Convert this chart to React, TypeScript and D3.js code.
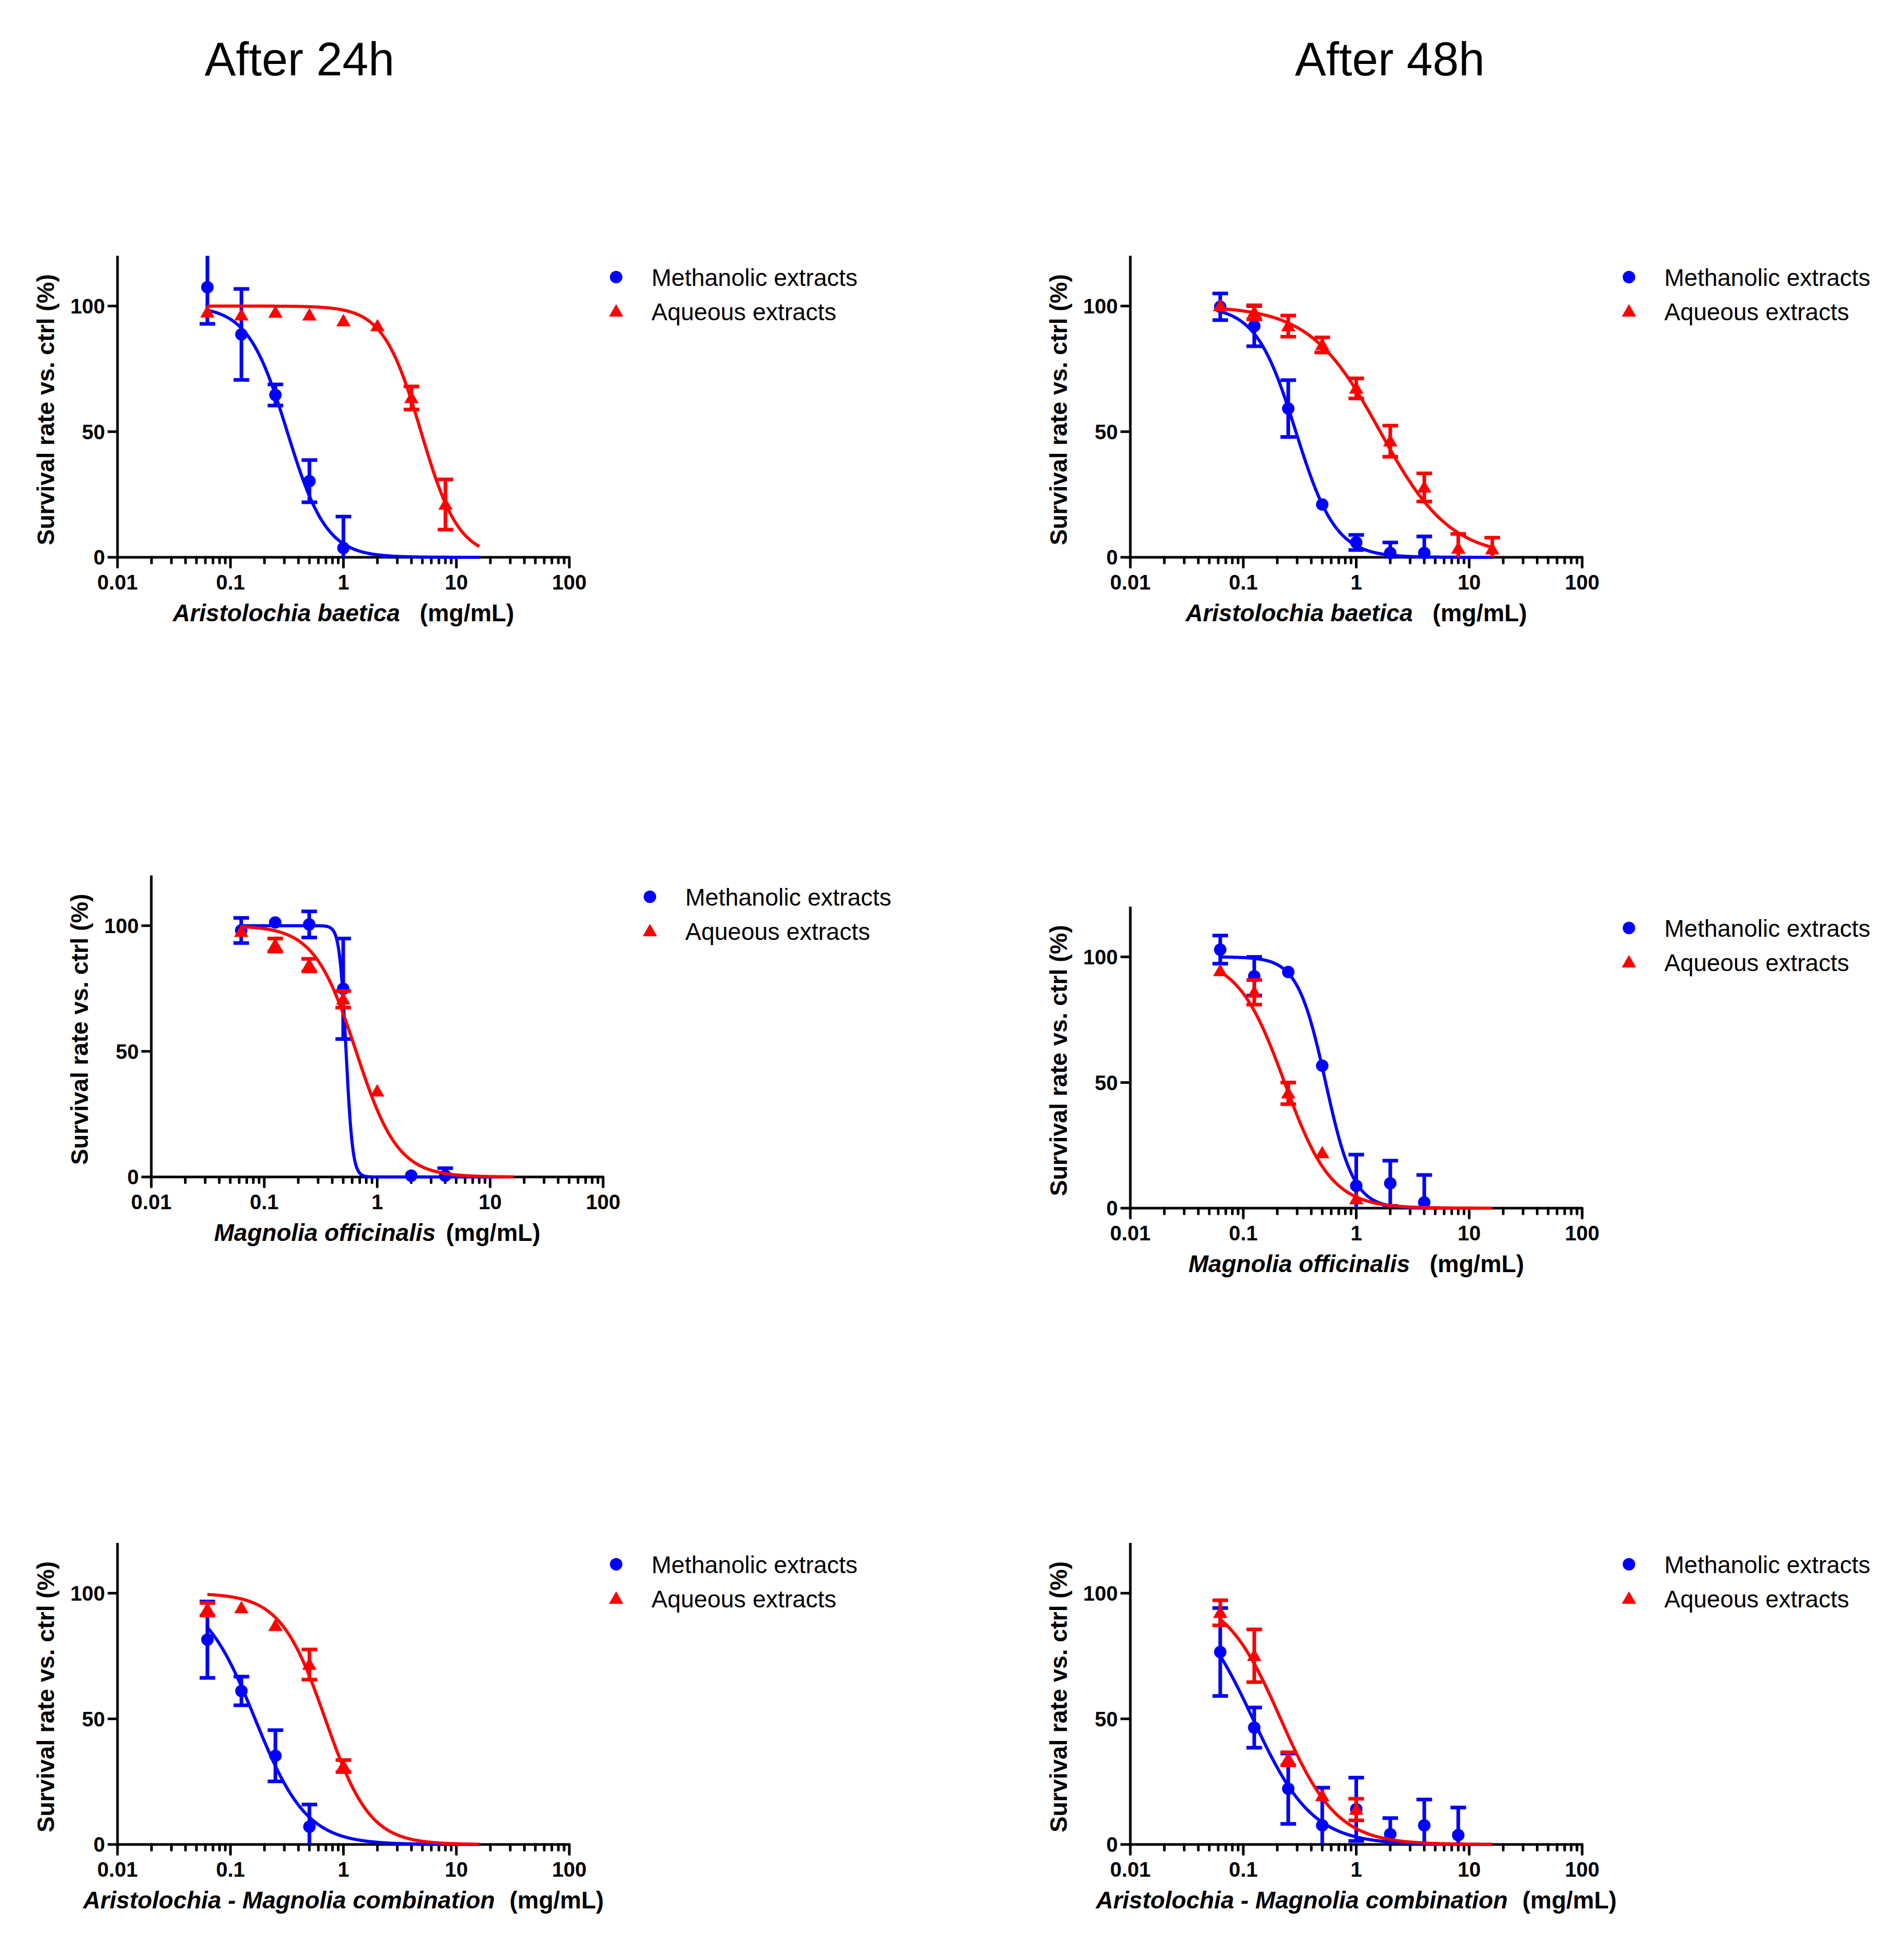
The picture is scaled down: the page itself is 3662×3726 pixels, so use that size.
import * as d3 from 'd3'

const W = 3662
const H = 3726
const FONT = '"Liberation Sans", Arial, Helvetica, sans-serif'
const BLUE = '#0000FF'
const RED = '#FF0000'

// plot frame size (4 decades wide, 0..120 % tall)
const PW = 869
const PH = 580

// sem 0 = bar shorter than the symbol, not drawn
// ---- After 24h, Aristolochia baetica ----
const doseMetA24 = [0.0625, 0.125, 0.25, 0.5, 1]
const metA24 = [107.5, 88.7, 64.6, 30.3, 3.7]
const metA24Sem = [14.6, 18.1, 4.2, 8.4, 12.5]
const doseAqA24 = [0.0625, 0.125, 0.25, 0.5, 1, 2, 4, 8]
const aqA24 = [97.5, 96.3, 97.4, 96.3, 94, 92, 63.4, 21]
const aqA24Sem = [0, 0, 0, 0, 0, 0, 4.6, 10]
const ic50A24 = [0.318, 4.86]
const hillA24 = [2.5, 2.6]

// ---- After 48h, Aristolochia baetica ----
const doseMetA48 = [0.0625, 0.125, 0.25, 0.5, 1, 2, 4]
const metA48 = [99.7, 92, 59.2, 21, 5.9, 1.7, 1.7]
const metA48Sem = [5.3, 8, 11.3, 0, 3, 4.2, 6.6]
const doseAqA48 = [0.0625, 0.125, 0.25, 0.5, 1, 2, 4, 8, 16]
const aqA48 = [100, 97.5, 92, 84.5, 67.2, 46.2, 27.8, 3.5, 3.2]
const aqA48Sem = [0, 2.8, 4.2, 3, 4, 6.2, 5.6, 5.8, 4.6]
const ic50A48 = [0.292, 1.63]
const hillA48 = [2.46, 1.4]

// ---- After 24h, Magnolia officinalis ----
const doseMetM24 = [0.0625, 0.125, 0.25, 0.5, 2, 4]
const metM24 = [98.1, 101.3, 100.5, 74.9, 0.5, 0.5]
const metM24Sem = [5, 0, 5.2, 20, 0, 3]
const doseAqM24 = [0.0625, 0.125, 0.25, 0.5, 1]
const aqM24 = [97.6, 92.3, 84.3, 70.7, 34.1]
const aqM24Sem = [0, 2.6, 2.5, 3.3, 0]
const ic50M24 = [0.53, 0.65]
const hillM24 = [15, 2.35]

// ---- After 48h, Magnolia officinalis ----
const doseMetM48 = [0.0625, 0.125, 0.25, 0.5, 1, 2, 4]
const metM48 = [102.9, 92.3, 94, 56.7, 8.9, 9.9, 2.3]
const metM48Sem = [5.6, 7.7, 0, 0, 12.4, 9, 10.9]
const doseAqM48 = [0.0625, 0.125, 0.25, 0.5, 1]
const aqM48 = [94.4, 85.9, 45.7, 21.9, 3.6]
const aqM48Sem = [0, 4.9, 4.3, 0, 0]
const ic50M48 = [0.536, 0.232]
const hillM48 = [3.5, 2.1]

// ---- After 24h, combination ----
const doseMetC24 = [0.0625, 0.125, 0.25, 0.5]
const metC24 = [81.5, 61.1, 35.3, 7.1]
const metC24Sem = [15.2, 5.7, 10.2, 8.8]
const doseAqC24 = [0.0625, 0.125, 0.25, 0.5, 1]
const aqC24 = [93.6, 94.1, 87, 71.6, 31.2]
const aqC24Sem = [2.5, 0, 0, 6, 2.4]
const ic50C24 = [0.165, 0.69]
const hillC24 = [1.9, 2.2]

// ---- After 48h, combination ----
const doseMetC48 = [0.0625, 0.125, 0.25, 0.5, 1, 2, 4, 8]
const metC48 = [76.6, 46.5, 22.2, 7.6, 14, 4.1, 7.6, 3.7]
const metC48Sem = [17.5, 8, 14, 15, 12.6, 6.4, 10.3, 11]
const doseAqC48 = [0.0625, 0.125, 0.25, 0.5, 1]
const aqC48 = [92.2, 75.1, 34.1, 19.3, 13.9]
const aqC48Sem = [5, 10.5, 2.6, 0, 4.3]
const ic50C48 = [0.1216, 0.214]
const hillC48 = [1.65, 1.75]

const legendLabels = ['Methanolic extracts', 'Aqueous extracts']
const titles = ['After 24h', 'After 48h']

type Series = { dose: number[]; mean: number[]; sem: number[]; ic50: number; hill: number }
type PanelDef = {
  x0: number
  y0: number
  species: string
  gap: number
  series: Series[]
}

function mk(dose: number[], mean: number[], sem: number[], ic50: number[], hill: number[], i: number): Series {
  return { dose, mean, sem, ic50: ic50[i], hill: hill[i] }
}

const panels: PanelDef[] = [
  {
    x0: 226, y0: 1072, species: 'Aristolochia baetica', gap: 38,
    series: [mk(doseMetA24, metA24, metA24Sem, ic50A24, hillA24, 0), mk(doseAqA24, aqA24, aqA24Sem, ic50A24, hillA24, 1)],
  },
  {
    x0: 2174, y0: 1072, species: 'Aristolochia baetica', gap: 38,
    series: [mk(doseMetA48, metA48, metA48Sem, ic50A48, hillA48, 0), mk(doseAqA48, aqA48, aqA48Sem, ic50A48, hillA48, 1)],
  },
  {
    x0: 291, y0: 2264, species: 'Magnolia officinalis', gap: 20,
    series: [mk(doseMetM24, metM24, metM24Sem, ic50M24, hillM24, 0), mk(doseAqM24, aqM24, aqM24Sem, ic50M24, hillM24, 1)],
  },
  {
    x0: 2174, y0: 2324, species: 'Magnolia officinalis', gap: 38,
    series: [mk(doseMetM48, metM48, metM48Sem, ic50M48, hillM48, 0), mk(doseAqM48, aqM48, aqM48Sem, ic50M48, hillM48, 1)],
  },
  {
    x0: 226, y0: 3548, species: 'Aristolochia - Magnolia combination', gap: 28,
    series: [mk(doseMetC24, metC24, metC24Sem, ic50C24, hillC24, 0), mk(doseAqC24, aqC24, aqC24Sem, ic50C24, hillC24, 1)],
  },
  {
    x0: 2174, y0: 3548, species: 'Aristolochia - Magnolia combination', gap: 28,
    series: [mk(doseMetC48, metC48, metC48Sem, ic50C48, hillC48, 0), mk(doseAqC48, aqC48, aqC48Sem, ic50C48, hillC48, 1)],
  },
]

const COLORS = [BLUE, RED]
const triPath = d3.symbol().type(d3.symbolTriangle).size(330)() ?? ''

function Marker({ kind, cx, cy }: { kind: number; cx: number; cy: number }) {
  if (kind === 0) return <circle cx={cx} cy={cy} r={12} fill={BLUE} />
  return <path d={triPath} transform={`translate(${cx},${cy + 2})`} fill={RED} />
}

function Panel({ p }: { p: PanelDef }) {
  const x = d3.scaleLog().domain([0.01, 100]).range([p.x0, p.x0 + PW])
  const y = d3.scaleLinear().domain([0, 120]).range([p.y0, p.y0 - PH])
  const ticks = x.ticks()
  const isMajor = (t: number) => Math.abs(Math.log10(t) - Math.round(Math.log10(t))) < 1e-9
  const yTicks = [0, 50, 100]

  // fitted dose–response curve sampled on a log grid between first and last dose
  const grid = d3.range(0, 401).map((i) => 0.0625 * Math.pow(256, i / 400))
  const top = y(120)
  const legendX = p.x0 + 959
  const legendY = top + 41

  return (
    <g>
      {/* axes */}
      <line x1={p.x0} x2={p.x0 + PW} y1={p.y0} y2={p.y0} stroke="#000" strokeWidth={5} />
      <line x1={p.x0} x2={p.x0} y1={top} y2={p.y0} stroke="#000" strokeWidth={5} />
      {ticks.map((t, i) => (
        <line
          key={i}
          x1={x(t)}
          x2={x(t)}
          y1={p.y0}
          y2={p.y0 + (isMajor(t) ? 19 : 11)}
          stroke="#000"
          strokeWidth={5}
          strokeLinecap="round"
        />
      ))}
      {ticks.filter(isMajor).map((t, i) => (
        <text
          key={i}
          x={x(t)}
          y={p.y0 + 62}
          textAnchor="middle"
          fontFamily={FONT}
          fontWeight="bold"
          fontSize={40}
        >
          {String(t)}
        </text>
      ))}
      {yTicks.map((t) => (
        <g key={t}>
          <line x1={p.x0 - 19} x2={p.x0} y1={y(t)} y2={y(t)} stroke="#000" strokeWidth={5} />
          <text
            x={p.x0 - 24}
            y={y(t)}
            dy="0.36em"
            textAnchor="end"
            fontFamily={FONT}
            fontWeight="bold"
            fontSize={40}
          >
            {t}
          </text>
        </g>
      ))}

      {/* axis titles */}
      <text
        transform={`translate(${p.x0 - 122},${(p.y0 + top) / 2 + 6}) rotate(-90)`}
        textAnchor="middle"
        fontFamily={FONT}
        fontWeight="bold"
        fontSize={46}
      >
        Survival rate vs. ctrl (%)
      </text>
      <text
        x={p.x0 + PW / 2}
        y={p.y0 + 123}
        textAnchor="middle"
        fontFamily={FONT}
        fontWeight="bold"
        fontSize={46}
      >
        <tspan fontStyle="italic">{p.species}</tspan>
        <tspan dx={p.gap}>(mg/mL)</tspan>
      </text>

      {/* data */}
      {p.series.map((s, k) => {
        const color = COLORS[k]
        const line = d3
          .line<number>()
          .x((c) => x(c))
          .y((c) => y(100 / (1 + Math.pow(10, s.hill * (Math.log10(c) - Math.log10(s.ic50))))))
        return (
          <g key={k}>
            <path d={line(grid) ?? ''} fill="none" stroke={color} strokeWidth={6} />
            {s.dose.map((d, i) => {
              const m = s.mean[i]
              const e = s.sem[i]
              const hi = Math.min(m + e, 120)
              const lo = Math.max(m - e, 0)
              const cx = x(d)
              return (
                <g key={i}>
                  {e > 0 && (
                    <line x1={cx} x2={cx} y1={y(hi)} y2={y(lo)} stroke={color} strokeWidth={7} />
                  )}
                  {e > 0 && m + e <= 120 && (
                    <line x1={cx - 15} x2={cx + 15} y1={y(hi)} y2={y(hi)} stroke={color} strokeWidth={7} />
                  )}
                  {e > 0 && m - e >= 0 && (
                    <line x1={cx - 15} x2={cx + 15} y1={y(lo)} y2={y(lo)} stroke={color} strokeWidth={7} />
                  )}
                  <Marker kind={k} cx={cx} cy={y(m)} />
                </g>
              )
            })}
          </g>
        )
      })}

      {/* legend */}
      {legendLabels.map((lab, k) => (
        <g key={k}>
          <Marker kind={k} cx={legendX} cy={legendY + k * 66} />
          <text x={p.x0 + 1027} y={legendY + k * 66 + 17} fontFamily={FONT} fontSize={46}>
            {lab}
          </text>
        </g>
      ))}
    </g>
  )
}

export default function App() {
  return (
    <svg
      width={W}
      height={H}
      viewBox={`0 0 ${W} ${H}`}
      style={{ position: 'absolute', left: 0, top: 0, background: '#fff' }}
    >
      <rect width={W} height={H} fill="#fff" />
      <text x={576} y={145} textAnchor="middle" fontFamily={FONT} fontSize={90}>
        {titles[0]}
      </text>
      <text x={2673} y={145} textAnchor="middle" fontFamily={FONT} fontSize={90}>
        {titles[1]}
      </text>
      {panels.map((p, i) => (
        <Panel key={i} p={p} />
      ))}
    </svg>
  )
}
